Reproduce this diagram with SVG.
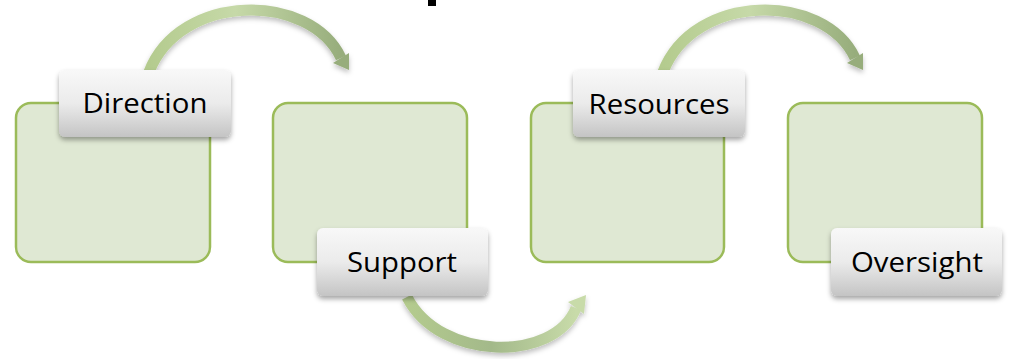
<svg xmlns="http://www.w3.org/2000/svg" width="1009" height="359" viewBox="0 0 1009 359">
  <style>
    .box { fill: #dfe8d3; stroke: #9bbb59; stroke-width: 2.5; }
    .lbl { fill: url(#lblGrad); filter: url(#shadow); }
    .txt { font-family: "Open Sans", "Liberation Sans", sans-serif; font-size: 28px; fill: #000; text-anchor: middle; }
    .arrowBody { fill: none; stroke-width: 11; stroke-linecap: butt; }
  </style>
  <defs>
    <linearGradient id="lblGrad" x1="0" y1="0" x2="0" y2="1">
      <stop offset="0" stop-color="#f8f8f8"/>
      <stop offset="0.5" stop-color="#ebebeb"/>
      <stop offset="1" stop-color="#c4c4c4"/>
    </linearGradient>
    <linearGradient id="arrGradTop" x1="0" y1="0" x2="1" y2="0">
      <stop offset="0" stop-color="#b4cb8e"/>
      <stop offset="0.45" stop-color="#c6d9a8"/>
      <stop offset="1" stop-color="#97ad7c"/>
    </linearGradient>
    <linearGradient id="arrGradBot" x1="0" y1="0" x2="1" y2="0">
      <stop offset="0" stop-color="#b4cb8e"/>
      <stop offset="0.5" stop-color="#a3b98a"/>
      <stop offset="1" stop-color="#c8dba9"/>
    </linearGradient>
    <filter id="shadow" x="-20%" y="-20%" width="140%" height="150%">
      <feDropShadow dx="0" dy="3" stdDeviation="2.5" flood-color="#000" flood-opacity="0.35"/>
    </filter>
    <filter id="ashadow" x="-20%" y="-20%" width="140%" height="150%">
      <feDropShadow dx="0" dy="3" stdDeviation="2.5" flood-color="#000" flood-opacity="0.25"/>
    </filter>
  </defs>

  <g id="title-fragment">
    <rect x="428" y="0" width="8" height="6" fill="#000"/>
  </g>

  <g id="connectors">
    <g id="arrow-direction-support" filter="url(#ashadow)">
      <path class="arrowBody" stroke="url(#arrGradTop)" d="M149,72 C180,-8 310,-8 341,58"/>
      <polygon points="333,63 349,53 349,70" fill="#97ad7c"/>
    </g>
    <g id="arrow-support-resources" filter="url(#ashadow)">
      <path class="arrowBody" stroke="url(#arrGradBot)" d="M407,297 C440,362 555,362 576,308"/>
      <polygon points="568,302 586,295 584,314" fill="#c8dba9"/>
    </g>
    <g id="arrow-resources-oversight" filter="url(#ashadow)">
      <path class="arrowBody" stroke="url(#arrGradTop)" d="M663,72 C694,-8 824,-8 855,58"/>
      <polygon points="847,63 863,53 863,70" fill="#97ad7c"/>
    </g>
  </g>

  <g id="node-direction">
    <rect class="box" x="16" y="103" width="194" height="159" rx="15"/>
    <rect class="lbl" x="59" y="70" width="172" height="67" rx="6"/>
    <text class="txt" x="145" y="113" textLength="125" lengthAdjust="spacingAndGlyphs">Direction</text>
  </g>
  <g id="node-support">
    <rect class="box" x="273" y="103" width="194" height="159" rx="15"/>
    <rect class="lbl" x="317" y="228" width="171" height="68" rx="6"/>
    <text class="txt" x="402" y="272" textLength="110" lengthAdjust="spacingAndGlyphs">Support</text>
  </g>
  <g id="node-resources">
    <rect class="box" x="531" y="103" width="193" height="159" rx="15"/>
    <rect class="lbl" x="573" y="70" width="172" height="67" rx="6"/>
    <text class="txt" x="659" y="114" textLength="141" lengthAdjust="spacingAndGlyphs">Resources</text>
  </g>
  <g id="node-oversight">
    <rect class="box" x="788" y="103" width="194" height="159" rx="15"/>
    <rect class="lbl" x="831" y="228" width="171" height="68" rx="6"/>
    <text class="txt" x="917" y="272" textLength="132" lengthAdjust="spacingAndGlyphs">Oversight</text>
  </g>
</svg>
